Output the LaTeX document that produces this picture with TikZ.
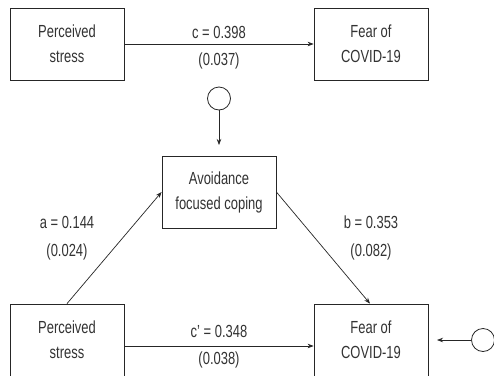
\documentclass[tikz,border=0pt]{standalone}
\usepackage{fontspec}
\setmainfont{Liberation Sans}[FakeStretch=0.74]
\usetikzlibrary{arrows.meta}
\begin{document}
\begin{tikzpicture}[x=1pt,y=-1pt,
  every node/.style={font=\fontsize{17.5}{25}\selectfont, text=black!80},
  varbox/.style={draw=black!85, line width=0.8pt, minimum width=114pt, minimum height=72pt, inner sep=0pt, align=center},
  errcirc/.style={draw=black!85, line width=0.8pt, circle, minimum size=23pt, inner sep=0pt},
  conn/.style={draw=black!85, line width=0.7pt, -{Stealth[length=6pt,width=4.5pt]}},
  lbl/.style={inner sep=0pt, anchor=center}]
\fill[white] (0,0) rectangle (494,375);
\useasboundingbox (0,0) rectangle (494,375);
\clip (0,0) rectangle (494,375);
% top model
\node[varbox] (ps1) at (67,44) {Perceived\\stress};
\node[varbox] (f1) at (371,44) {Fear of\\COVID-19};
\draw[conn] (ps1.east) -- (f1.west);
\node[lbl] (c1) at (219,32) {c = 0.398};
\node[lbl] (c1se) at (219,61) {(0.037)};
% mediator
\node[varbox] (m) at (219,192) {Avoidance\\focused coping};
\node[errcirc] (e1) at (219,98.5) {};
\coordinate (e1t) at (219,145);
\draw[conn] (e1.south) -- (e1t);
% bottom model
\node[varbox] (ps2) at (67,340) {Perceived\\stress};
\node[varbox] (f2) at (371,340) {Fear of\\COVID-19};
\draw[conn] ([yshift=-6pt]ps2.east) -- ([yshift=-6pt]f2.west);
\node[lbl] (c2) at (219,331) {c’ = 0.348};
\node[lbl] (c2se) at (219,360) {(0.038)};
\draw[conn] (ps2.north) -- (m.west);
\draw[conn] (m.east) -- ([xshift=-1pt]f2.north);
\node[lbl] (a) at (67,222) {a = 0.144};
\node[lbl] (ase) at (67,252) {(0.024)};
\node[lbl] (b) at (371,222) {b = 0.353};
\node[lbl] (bse) at (371,252) {(0.082)};
\node[errcirc] (e2) at (483,340) {};
\coordinate (e2t) at (437,340);
\draw[conn] (e2.west) -- (e2t);
\end{tikzpicture}
\end{document}
